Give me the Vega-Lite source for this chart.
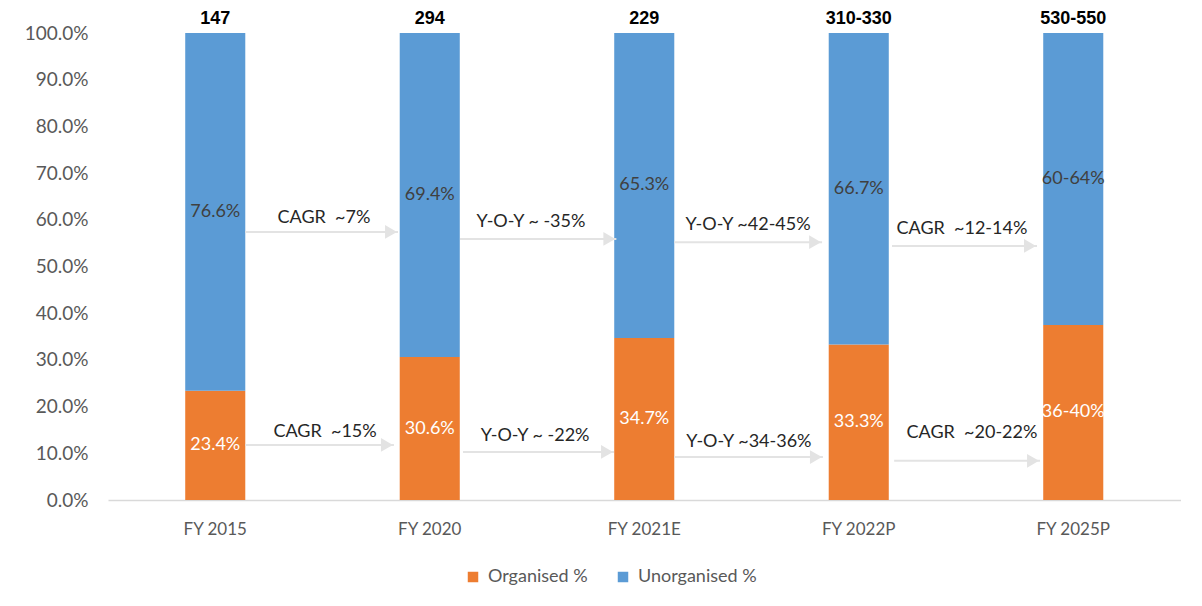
{
  "$schema": "https://vega.github.io/schema/vega-lite/v6.json",
  "width": 1072.5,
  "height": 467,
  "autosize": "none",
  "padding": {"left": 108, "top": 33, "right": 21.5, "bottom": 106},
  "background": "white",
  "config": {
    "view": {"stroke": null},
    "font": "Lato",
    "axis": {"grid": false, "ticks": false, "labelFont": "Lato", "labelColor": "#595959"}
  },
  "datasets": {
    "bars": [
      {"year": "FY 2015", "seg": "Organised %", "pct": 23.4, "label": "23.4%"},
      {"year": "FY 2015", "seg": "Unorganised %", "pct": 76.6, "label": "76.6%"},
      {"year": "FY 2020", "seg": "Organised %", "pct": 30.6, "label": "30.6%"},
      {"year": "FY 2020", "seg": "Unorganised %", "pct": 69.4, "label": "69.4%"},
      {"year": "FY 2021E", "seg": "Organised %", "pct": 34.7, "label": "34.7%"},
      {"year": "FY 2021E", "seg": "Unorganised %", "pct": 65.3, "label": "65.3%"},
      {"year": "FY 2022P", "seg": "Organised %", "pct": 33.3, "label": "33.3%"},
      {"year": "FY 2022P", "seg": "Unorganised %", "pct": 66.7, "label": "66.7%"},
      {"year": "FY 2025P", "seg": "Organised %", "pct": 37.5, "label": "36-40%"},
      {"year": "FY 2025P", "seg": "Unorganised %", "pct": 62.5, "label": "60-64%"}
    ],
    "totals": [
      {"year": "FY 2015", "top": 100, "total": "147"},
      {"year": "FY 2020", "top": 100, "total": "294"},
      {"year": "FY 2021E", "top": 100, "total": "229"},
      {"year": "FY 2022P", "top": 100, "total": "310-330"},
      {"year": "FY 2025P", "top": 100, "total": "530-550"}
    ],
    "arrows": [
      {"xs": 0.639, "xe": 1.352, "ay": 57.4, "tx": 1.007, "ty": 60.4, "text": "CAGR \u00a0~7%"},
      {"xs": 1.641, "xe": 2.370, "ay": 55.9, "tx": 1.972, "ty": 59.5, "text": "Y-O-Y ~ -35%"},
      {"xs": 2.639, "xe": 3.329, "ay": 55.2, "tx": 2.984, "ty": 58.9, "text": "Y-O-Y ~42-45%"},
      {"xs": 3.655, "xe": 4.331, "ay": 54.4, "tx": 3.981, "ty": 58.0, "text": "CAGR \u00a0~12-14%"},
      {"xs": 0.639, "xe": 1.333, "ay": 11.8, "tx": 1.012, "ty": 14.6, "text": "CAGR \u00a0~15%"},
      {"xs": 1.655, "xe": 2.359, "ay": 10.3, "tx": 1.991, "ty": 13.7, "text": "Y-O-Y ~ -22%"},
      {"xs": 2.639, "xe": 3.333, "ay": 9.2, "tx": 2.988, "ty": 12.4, "text": "Y-O-Y ~34-36%"},
      {"xs": 3.665, "xe": 4.345, "ay": 8.4, "tx": 4.028, "ty": 14.3, "text": "CAGR \u00a0~20-22%"}
    ]
  },
  "layer": [
    {
      "encoding": {
        "x": {
          "field": "year", "type": "nominal", "sort": null, "title": null,
          "scale": {"paddingInner": 0.72, "paddingOuter": 0.36},
          "axis": {"labelAngle": 0, "labelFontSize": 17, "labelPadding": 21, "domainColor": "#d9d9d9", "domainWidth": 1.5}
        }
      },
      "layer": [
        {
          "data": {"name": "bars"},
          "mark": {"type": "bar"},
          "encoding": {
            "y": {
              "field": "pct", "type": "quantitative", "stack": "zero", "title": null,
              "scale": {"domain": [0, 100]},
              "axis": {"values": [0, 10, 20, 30, 40, 50, 60, 70, 80, 90, 100], "labelExpr": "format(datum.value, '.1f') + '%'", "labelFontSize": 19, "labelPadding": 20, "domain": false}
            },
            "color": {
              "field": "seg", "type": "nominal", "title": null,
              "scale": {"domain": ["Organised %", "Unorganised %"], "range": ["#ED7D31", "#5B9BD5"]},
              "legend": {"orient": "none", "direction": "horizontal", "legendX": 356, "legendY": 535, "symbolType": "square", "symbolSize": 110, "symbolStrokeWidth": 0, "labelFontSize": 18, "labelFont": "Lato", "labelColor": "#595959", "labelOffset": 6, "columnPadding": 26}
            },
            "order": {"field": "seg", "sort": "ascending"}
          }
        },
        {
          "data": {"name": "bars"},
          "transform": [
            {"stack": "pct", "groupby": ["year"], "sort": [{"field": "seg", "order": "ascending"}], "as": ["y0", "y1"]},
            {"calculate": "(datum.y0 + datum.y1) / 2", "as": "mid"}
          ],
          "mark": {"type": "text", "fontSize": 18, "font": "Lato", "baseline": "middle"},
          "encoding": {
            "y": {"field": "mid", "type": "quantitative", "title": null},
            "text": {"field": "label"},
            "color": {"condition": {"test": "datum.seg == 'Organised %'", "value": "#ffffff"}, "value": "#404040"}
          }
        },
        {
          "data": {"name": "totals"},
          "mark": {"type": "text", "fontSize": 18, "font": "Liberation Sans", "fontWeight": "bold", "baseline": "bottom", "dy": -5, "color": "#000000"},
          "encoding": {
            "y": {"field": "top", "type": "quantitative", "title": null},
            "text": {"field": "total"}
          }
        }
      ]
    },
    {
      "data": {"name": "arrows"},
      "encoding": {
        "x": {"field": "xs", "type": "quantitative", "scale": {"domain": [0, 5], "nice": false, "zero": false}, "axis": null, "title": null}
      },
      "layer": [
        {
          "mark": {"type": "rule", "color": "#e3e3e3", "strokeWidth": 2},
          "encoding": {
            "x2": {"field": "xe"},
            "y": {"field": "ay", "type": "quantitative", "title": null}
          }
        },
        {
          "mark": {"type": "point", "shape": "triangle-right", "filled": true, "size": 190, "color": "#e3e3e3", "opacity": 1, "xOffset": -7},
          "encoding": {
            "x": {"field": "xe", "type": "quantitative", "scale": {"domain": [0, 5], "nice": false, "zero": false}, "axis": null, "title": null},
            "y": {"field": "ay", "type": "quantitative", "title": null}
          }
        },
        {
          "mark": {"type": "text", "fontSize": 18, "font": "Lato", "color": "#262626", "baseline": "middle"},
          "encoding": {
            "x": {"field": "tx", "type": "quantitative", "scale": {"domain": [0, 5], "nice": false, "zero": false}, "axis": null, "title": null},
            "y": {"field": "ty", "type": "quantitative", "title": null},
            "text": {"field": "text"}
          }
        }
      ]
    }
  ],
  "resolve": {"scale": {"x": "independent"}, "axis": {"x": "independent"}}
}
